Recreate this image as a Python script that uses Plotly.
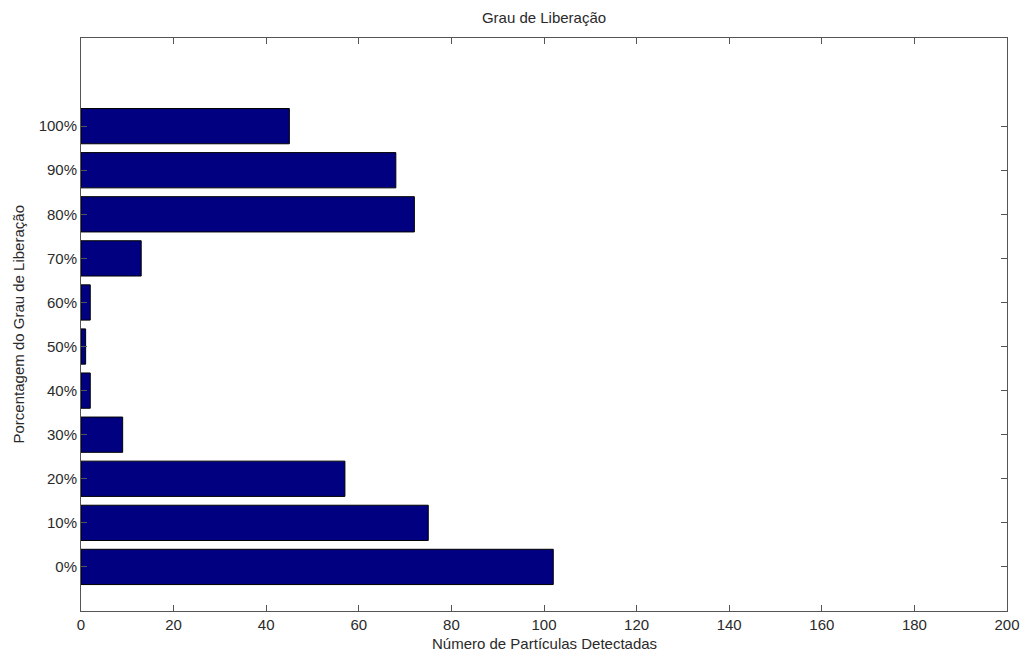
import plotly.graph_objects as go

categories = ["0%", "10%", "20%", "30%", "40%", "50%", "60%", "70%", "80%", "90%", "100%"]
counts = [102, 75, 57, 9, 2, 1, 2, 13, 72, 68, 45]
x_ticks = [0, 20, 40, 60, 80, 100, 120, 140, 160, 180, 200]

positions = list(range(len(categories)))

fig = go.Figure()
fig.add_trace(go.Bar(
    x=counts, y=positions, orientation="h", width=0.8,
    marker=dict(color="#000080", line=dict(color="#000000", width=1)),
))

W, H = 1023, 655
L, R, T, B = 81, 16, 38, 44
FS = 15
TXT = "#2a2a2a"
font = dict(family="Liberation Sans, Arial, sans-serif", size=FS, color=TXT)
fig.update_layout(
    width=W, height=H,
    margin=dict(l=L, r=R, t=T, b=B, autoexpand=False),
    paper_bgcolor="white", plot_bgcolor="white",
    showlegend=False,
    font=font,
    title=dict(text="Grau de Liberação", x=(L + (W - R)) / 2 / W, xanchor="center",
               y=1 - 18 / H, yanchor="middle", font=dict(size=FS, color=TXT)),
    annotations=[
        dict(text="Número de Partículas Detectadas", xref="paper", yref="paper",
             x=0.5, y=-(644 - (H - B)) / (H - T - B), xanchor="center", yanchor="middle",
             showarrow=False, font=dict(size=FS, color=TXT)),
        dict(text="Porcentagem do Grau de Liberação", xref="paper", yref="paper",
             x=-(L - 18) / (W - L - R), y=0.5, xanchor="center", yanchor="middle",
             textangle=-90, showarrow=False, font=dict(size=FS, color=TXT)),
    ],
)
fig.update_xaxes(
    range=[0, 200], tickvals=x_ticks, ticktext=[str(v) for v in x_ticks],
    ticks="inside", ticklen=6, tickcolor="#555555", tickwidth=1,
    showline=True, linecolor="#555555", linewidth=1, mirror="ticks",
    showgrid=False, zeroline=False, automargin=False,
)
fig.update_yaxes(
    range=[-1, 12], tickvals=positions, ticktext=categories,
    ticks="inside", ticklen=6, tickcolor="#555555", tickwidth=1,
    showline=True, linecolor="#555555", linewidth=1, mirror="ticks",
    showgrid=False, zeroline=False, automargin=False,
)

fig.write_html("out.html", config={"displayModeBar": False},
               post_script="document.body.style.margin='0px';")
